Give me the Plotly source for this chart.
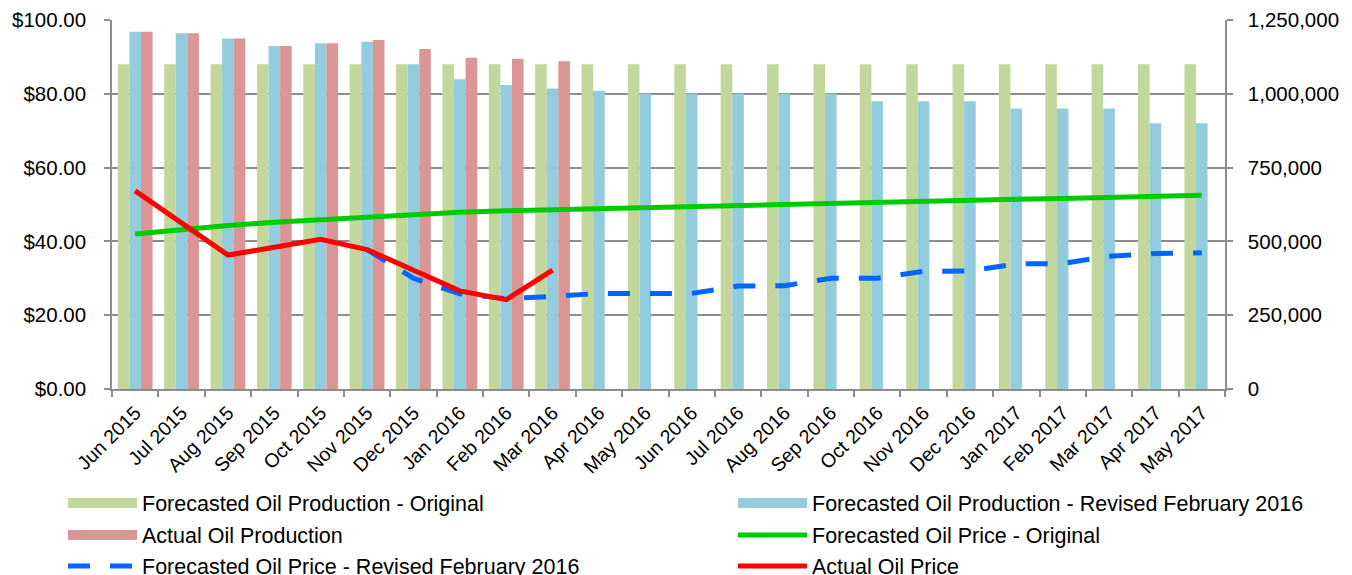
import plotly.graph_objects as go

months = ["Jun 2015", "Jul 2015", "Aug 2015", "Sep 2015", "Oct 2015", "Nov 2015",
          "Dec 2015", "Jan 2016", "Feb 2016", "Mar 2016", "Apr 2016", "May 2016",
          "Jun 2016", "Jul 2016", "Aug 2016", "Sep 2016", "Oct 2016", "Nov 2016",
          "Dec 2016", "Jan 2017", "Feb 2017", "Mar 2017", "Apr 2017", "May 2017"]

prod_original = [1100000, 1100000, 1100000, 1100000, 1100000, 1100000,
                 1100000, 1100000, 1100000, 1100000, 1100000, 1100000,
                 1100000, 1100000, 1100000, 1100000, 1100000, 1100000,
                 1100000, 1100000, 1100000, 1100000, 1100000, 1100000]

prod_revised = [1210000, 1205000, 1187000, 1162000, 1171000, 1176000,
                1100000, 1049000, 1030000, 1018000, 1010000, 1000000,
                1000000, 1000000, 1000000, 1000000, 975000, 975000,
                975000, 950000, 950000, 950000, 900000, 900000]

prod_actual = [1210000, 1205000, 1187000, 1162000, 1171000, 1182000,
               1152000, 1122000, 1119000, 1110000]

price_original = [42.0, 43.3, 44.3, 45.2, 45.9, 46.7, 47.4, 47.9, 48.3, 48.6,
                  48.8, 49.2, 49.55, 49.8, 50.2, 50.45, 50.7, 50.9, 51.1, 51.45,
                  51.6, 51.9, 52.3, 52.5]

price_revised_months = months[5:]
price_revised = [37.8, 30.0, 25.8, 24.5, 25.1, 25.9, 25.9, 25.9, 27.9, 28.0,
                 30.0, 30.0, 31.9, 32.0, 33.9, 34.0, 36.0, 36.7, 36.9]

price_actual = [53.7, 44.9, 36.3, 38.4, 40.6, 37.8, 32.1, 26.6, 24.2, 32.2]

names = ["Forecasted Oil Production - Original",
         "Forecasted Oil Production - Revised February 2016",
         "Actual Oil Production",
         "Forecasted Oil Price - Original",
         "Forecasted Oil Price - Revised February 2016",
         "Actual Oil Price"]

C_GREEN_BAR = "#C3D69B"
C_BLUE_BAR = "#93CDDD"
C_RED_BAR = "#D99694"
C_GREEN_LINE = "#00CC00"
C_BLUE_LINE = "#0066FF"
C_RED_LINE = "#FF0000"
GRID = "#8C8C8C"
FONT = "Liberation Sans, Arial, sans-serif"
DASH = "22px,20px"

fig = go.Figure()

# bars (right axis, drawn underneath)
fig.add_trace(go.Bar(x=months, y=prod_original, name=names[0], showlegend=False,
                     marker=dict(color=C_GREEN_BAR, line=dict(width=0)), yaxis="y"))
fig.add_trace(go.Bar(x=months, y=prod_revised, name=names[1], showlegend=False,
                     marker=dict(color=C_BLUE_BAR, line=dict(width=0)), yaxis="y"))
fig.add_trace(go.Bar(x=months[:len(prod_actual)], y=prod_actual, name=names[2], showlegend=False,
                     marker=dict(color=C_RED_BAR, line=dict(width=0)), yaxis="y"))

# price lines (left axis, drawn on top)
fig.add_trace(go.Scatter(x=months, y=price_original, name=names[3], legend="legend4",
                         mode="lines", line=dict(color=C_GREEN_LINE, width=5), yaxis="y2"))
fig.add_trace(go.Scatter(x=price_revised_months, y=price_revised, name=names[4], legend="legend5",
                         mode="lines", line=dict(color=C_BLUE_LINE, width=5, dash=DASH),
                         yaxis="y2"))
fig.add_trace(go.Scatter(x=months[:len(price_actual)], y=price_actual, name=names[5],
                         legend="legend6",
                         mode="lines", line=dict(color=C_RED_LINE, width=5), yaxis="y2"))

# legend keys for the bar series (wide rectangles like the original)
for nm, col, lg in [(names[0], C_GREEN_BAR, "legend"),
                    (names[1], C_BLUE_BAR, "legend2"),
                    (names[2], C_RED_BAR, "legend3")]:
    fig.add_trace(go.Scatter(x=[None], y=[None], name=nm, legend=lg, mode="lines",
                             line=dict(color=col, width=12), yaxis="y2", hoverinfo="skip"))

OFF = 8  # page body margin
LEG_FONT = dict(family=FONT, size=21.5, color="black")
col_x = [(68 - 5 - OFF) / 1352, (738 - 5 - OFF) / 1352]
row_y = [1 - (503 - OFF) / 575, 1 - (535 - OFF) / 575, 1 - (566 - OFF) / 575]


def leg(cx, ry):
    return dict(xref="container", yref="container", x=col_x[cx], y=row_y[ry],
                xanchor="left", yanchor="middle", orientation="v", itemwidth=69,
                bgcolor="rgba(0,0,0,0)", borderwidth=0, font=LEG_FONT)


fig.update_layout(
    width=1352, height=575,
    margin=dict(l=112 - OFF, r=1352 - (1225 - OFF), t=20 - OFF, b=575 - (389 - OFF),
                autoexpand=False),
    paper_bgcolor="white", plot_bgcolor="white",
    font=dict(family=FONT, size=20, color="black"),
    barmode="group", bargap=0.25, bargroupgap=0,
    showlegend=True,
    legend=leg(0, 0), legend2=leg(1, 0), legend3=leg(0, 1),
    legend4=leg(1, 1), legend5=leg(0, 2), legend6=leg(1, 2),
    xaxis=dict(type="category", tickangle=-45, tickson="boundaries",
               ticks="outside", ticklen=6, tickcolor=GRID, tickwidth=1.5,
               showline=True, linecolor=GRID, linewidth=1.5, showgrid=False,
               ticklabelstandoff=3,
               tickfont=dict(family=FONT, size=19.5, color="black")),
    yaxis=dict(side="right", range=[0, 1250000], dtick=250000, tickformat=",d",
               showgrid=True, gridcolor=GRID, gridwidth=1.5,
               ticks="outside", ticklen=6, tickcolor=GRID, tickwidth=1.5,
               showline=True, linecolor=GRID, linewidth=1.5, zeroline=False,
               ticklabelstandoff=11,
               tickfont=dict(family=FONT, size=20.5, color="black")),
    yaxis2=dict(side="left", overlaying="y", range=[0, 100], dtick=20, tickformat="$.2f",
                showgrid=False, ticks="outside", ticklen=6, tickcolor=GRID, tickwidth=1.5,
                showline=True, linecolor=GRID, linewidth=1.5, zeroline=False,
                ticklabelstandoff=14,
                tickfont=dict(family=FONT, size=20.5, color="black")),
)

fig.write_html("out.html")
